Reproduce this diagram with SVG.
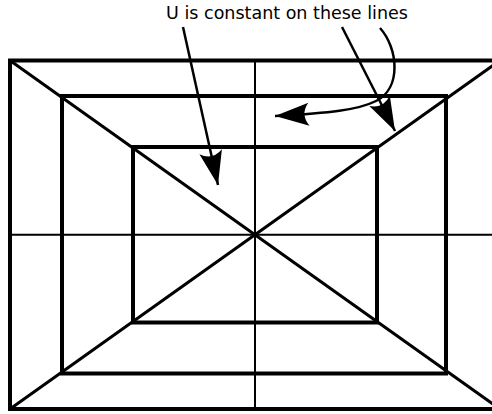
<svg xmlns="http://www.w3.org/2000/svg" width="492" height="414" viewBox="0 0 492 414">
<style>
.rect{fill:none;stroke:#000;stroke-width:4}
.diag{fill:none;stroke:#000;stroke-width:3}
.axis{fill:none;stroke:#000;stroke-width:2}
.arr{fill:none;stroke:#000;stroke-width:2.5}
.lbl{font-family:"DejaVu Sans",sans-serif;font-size:17.5px;fill:#000}
</style>
<defs>
<marker id="ah" markerUnits="userSpaceOnUse" markerWidth="50" markerHeight="40" viewBox="-40 -20 50 40" refX="0" refY="0" orient="auto" overflow="visible">
<path d="M0,0 L-34,-11.5 Q-25,0 -34,11.5 Z" fill="#000"/>
</marker>
</defs>
<rect width="492" height="414" fill="#fff"/>
<g id="grid">
<line class="axis" x1="10" y1="234.7" x2="492" y2="234.7"/>
<line class="axis" x1="255" y1="60.5" x2="255" y2="409"/>
</g>
<g id="diagonals">
<line class="diag" x1="10" y1="60.5" x2="500" y2="409"/>
<line class="diag" x1="500" y1="60.5" x2="10" y2="409"/>
</g>
<g id="outer"><rect class="rect" x="10" y="60.5" width="490" height="348.5"/></g>
<g id="middle"><rect class="rect" x="62" y="96" width="384" height="277.5"/></g>
<g id="inner"><rect class="rect" x="133" y="147" width="244" height="175.5"/></g>
<g id="label"><text class="lbl" x="287" y="19" text-anchor="middle">U is constant on these lines</text></g>
<g id="connectors">
<path class="arr" d="M183,27 L218,185" marker-end="url(#ah)"/>
<path class="arr" d="M342,27 L395,131" marker-end="url(#ah)"/>
<path class="arr" d="M380,28 C398,48 402,88 376,101 C358,110 330,113 275,116" marker-end="url(#ah)"/>
</g>
</svg>
